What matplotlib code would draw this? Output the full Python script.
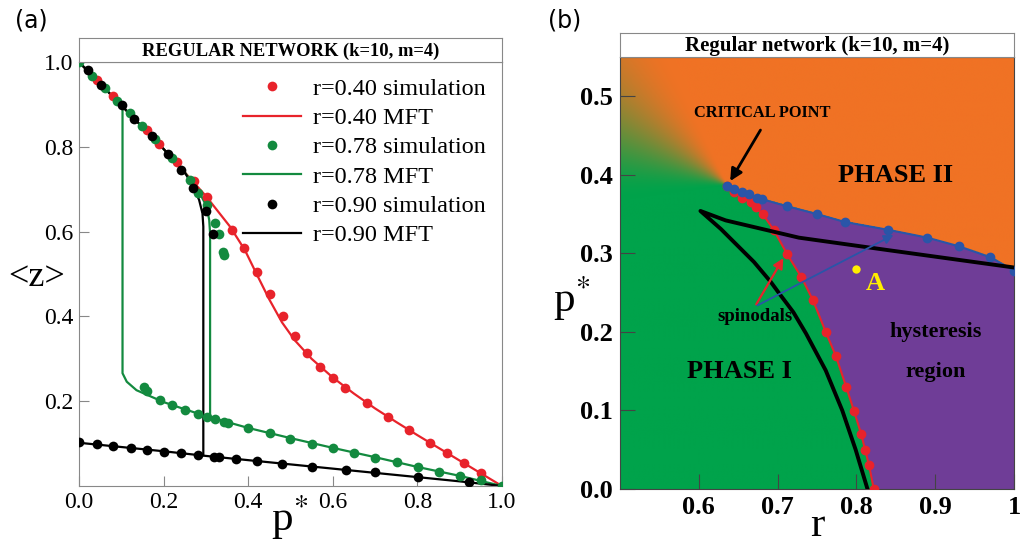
import numpy as np
import matplotlib
matplotlib.use('Agg')
import matplotlib.pyplot as plt

plt.rcParams['font.family'] = ['Liberation Serif', 'DejaVu Serif']
plt.rcParams['mathtext.fontset'] = 'stix'

# ---------------- panel (a) data ----------------
red_sim_x = [0.042, 0.081, 0.16, 0.19, 0.232, 0.272, 0.302, 0.361, 0.39, 0.42, 0.452, 0.482,
             0.51, 0.54, 0.571, 0.601, 0.63, 0.682, 0.731, 0.781, 0.83, 0.871, 0.91, 0.95]
red_sim_y = [0.958, 0.92, 0.84, 0.807, 0.764, 0.72, 0.681, 0.604, 0.561, 0.504, 0.453, 0.40,
             0.354, 0.314, 0.281, 0.254, 0.23, 0.195, 0.163, 0.132, 0.102, 0.077, 0.055, 0.031]
red_mft_x = [0.0, 0.1, 0.2, 0.25, 0.3, 0.357, 0.392, 0.42, 0.45, 0.48, 0.51, 0.55, 0.6, 0.65,
             0.7, 0.75, 0.8, 0.85, 0.9, 0.95, 1.0]
red_mft_y = [1.0, 0.898, 0.795, 0.74, 0.684, 0.612, 0.557, 0.5, 0.44, 0.386, 0.344, 0.3, 0.256,
             0.218, 0.183, 0.151, 0.12, 0.09, 0.06, 0.03, 0.0]

green_sim_x = [0.0, 0.031, 0.061, 0.091, 0.121, 0.15, 0.18, 0.221, 0.262, 0.282, 0.302, 0.322,
               0.332, 0.341, 0.343,
               0.154, 0.16, 0.191, 0.221, 0.251, 0.282, 0.302, 0.322, 0.343, 0.352, 0.4, 0.452,
               0.5, 0.551, 0.6, 0.651, 0.701, 0.751, 0.801, 0.851, 0.901, 0.95, 1.0]
green_sim_y = [1.0, 0.968, 0.938, 0.909, 0.879, 0.849, 0.818, 0.773, 0.722, 0.692, 0.663, 0.621,
               0.594, 0.553, 0.545,
               0.234, 0.225, 0.204, 0.19, 0.179, 0.17, 0.163, 0.157, 0.151, 0.149, 0.136, 0.124,
               0.112, 0.1, 0.089, 0.077, 0.067, 0.056, 0.044, 0.034, 0.024, 0.014, 0.0]
green_up_x = [0.0, 0.1, 0.2, 0.25, 0.286, 0.302, 0.308, 0.31, 0.31]
green_up_y = [1.0, 0.898, 0.795, 0.74, 0.69, 0.659, 0.627, 0.596, 0.163]
green_low_x = [0.103, 0.103, 0.113, 0.136, 0.168, 0.2, 0.25, 0.3, 0.35, 0.4, 0.5, 0.6, 0.7,
               0.8, 0.9, 1.0]
green_low_y = [0.89, 0.266, 0.246, 0.226, 0.212, 0.198, 0.181, 0.165, 0.151, 0.137, 0.113,
               0.09, 0.068, 0.045, 0.024, 0.0]

black_sim_x = [0.022, 0.051, 0.102, 0.131, 0.172, 0.211, 0.241, 0.27, 0.3, 0.318,
               0.0, 0.042, 0.081, 0.122, 0.161, 0.201, 0.241, 0.281, 0.319, 0.331, 0.371,
               0.422, 0.481, 0.551, 0.631, 0.701, 0.801, 0.921]
black_sim_y = [0.981, 0.947, 0.899, 0.866, 0.825, 0.782, 0.745, 0.704, 0.649, 0.594,
               0.103, 0.098, 0.094, 0.09, 0.085, 0.081, 0.077, 0.073, 0.069, 0.068, 0.064,
               0.059, 0.053, 0.046, 0.038, 0.032, 0.022, 0.01]
black_up_x = [0.0, 0.1, 0.2, 0.25, 0.27, 0.284, 0.292, 0.294, 0.294]
black_up_y = [1.0, 0.898, 0.795, 0.74, 0.706, 0.675, 0.643, 0.612, 0.073]
black_low_x = [0.0, 0.1, 0.2, 0.3, 0.4, 0.5, 0.6, 0.7, 0.8, 0.9, 1.0]
black_low_y = [0.102, 0.092, 0.082, 0.071, 0.061, 0.051, 0.041, 0.031, 0.021, 0.011, 0.0]

# ---------------- panel (b) data ----------------
crit_r, crit_p = 0.636, 0.386
blue_r = [0.636, 0.644, 0.655, 0.664, 0.674, 0.68, 0.712, 0.75, 0.785, 0.84, 0.89, 0.93, 0.97, 1.0]
blue_p = [0.386, 0.382, 0.378, 0.375, 0.371, 0.369, 0.36, 0.35, 0.34, 0.33, 0.32, 0.309, 0.295, 0.278]
red_r = [0.636, 0.644, 0.655, 0.666, 0.672, 0.681, 0.695, 0.712, 0.73, 0.745, 0.761, 0.774,
         0.787, 0.797, 0.806, 0.811, 0.816, 0.822]
red_p = [0.386, 0.378, 0.371, 0.365, 0.359, 0.35, 0.33, 0.299, 0.27, 0.24, 0.2, 0.169,
         0.13, 0.099, 0.07, 0.05, 0.03, 0.0]
mft_r = [1.0, 0.841, 0.727, 0.634, 0.602, 0.628, 0.651, 0.67, 0.691, 0.702, 0.72, 0.736, 0.761,
         0.782, 0.799, 0.814]
mft_p = [0.282, 0.304, 0.32, 0.342, 0.354, 0.331, 0.308, 0.289, 0.264, 0.249, 0.225, 0.198,
         0.151, 0.1, 0.05, 0.0]
point_a = (0.80, 0.28)

RED = '#e8232b'
GREEN = '#138a3f'
ORANGE = np.array([240, 114, 36]) / 255
BGREEN = np.array([0, 163, 75]) / 255
PURPLE = '#6f3d97'
BLUE = '#2a55a8'

fig = plt.figure(figsize=(10.24, 5.47), dpi=100)

# ---------------- panel (a) ----------------
ax = fig.add_axes([0.0771, 0.1115, 0.4131, 0.7751])
ax.plot(red_mft_x, red_mft_y, color=RED, lw=1.6, label='r=0.40 MFT', zorder=2)
ax.plot(green_up_x, green_up_y, color=GREEN, lw=1.6, label='r=0.78 MFT', zorder=2)
ax.plot(green_low_x, green_low_y, color=GREEN, lw=1.6, zorder=2)
ax.plot(black_up_x, black_up_y, color='black', lw=1.6, label='r=0.90 MFT', zorder=2)
ax.plot(black_low_x, black_low_y, color='black', lw=1.6, zorder=2)
ax.plot(red_sim_x, red_sim_y, 'o', color=RED, ms=7, mec='none', label='r=0.40 simulation', zorder=3)
ax.plot(green_sim_x, green_sim_y, 'o', color=GREEN, ms=7, mec='none', label='r=0.78 simulation', zorder=4)
ax.plot(black_sim_x, black_sim_y, 'o', color='black', ms=7, mec='none', label='r=0.90 simulation', zorder=5)
ax.set_xlim(0, 1)
ax.set_ylim(0, 1)
ax.set_xticks([0.0, 0.2, 0.4, 0.6, 0.8, 1.0])
ax.set_yticks([0.2, 0.4, 0.6, 0.8, 1.0])
ax.set_xticklabels(['0.0', '0.2', '0.4', '0.6', '0.8', '1.0'])
ax.set_yticklabels(['0.2', '0.4', '0.6', '0.8', '1.0'])
ax.tick_params(direction='in', length=7, color='#888888', labelsize=17, pad=4)
for s in ax.spines.values():
    s.set_color('#888888')
handles, labels = ax.get_legend_handles_labels()
order = [3, 0, 4, 1, 5, 2]
ax.legend([handles[i] for i in order], [labels[i] for i in order], loc='upper right',
          bbox_to_anchor=(1.0, 1.0), frameon=False, fontsize=17.5, handlelength=2.4,
          handletextpad=0.5, labelspacing=0.3, borderaxespad=0.25)
fig.text(0.283, 0.03, r'p$^{*}$', fontsize=31, ha='center', va='baseline')
fig.text(0.036, 0.493, '<z>', fontsize=26, ha='center', va='center')
fig.text(0.031, 0.962, '(a)', fontsize=17, ha='center', va='center', family='DejaVu Sans')

tax = fig.add_axes([0.0771, 0.8867, 0.4131, 0.0439])
tax.set_xticks([])
tax.set_yticks([])
for s in tax.spines.values():
    s.set_color('#888888')
tax.text(0.5, 0.45, 'REGULAR NETWORK (k=10, m=4)', ha='center', va='center',
         fontsize=13.3, fontweight='bold', transform=tax.transAxes)

# ---------------- panel (b) ----------------
bx = fig.add_axes([0.6055, 0.106, 0.3848, 0.7898])
rr, pp = np.meshgrid(np.linspace(0.5, 1.0, 400), np.linspace(0.0, 0.55, 440))
theta = np.degrees(np.arctan2(pp - crit_p, rr - crit_r)) % 360
w = np.clip((188 - theta) / 75, 0, 1)
w = w * w * (3 - 2 * w)
above = pp > np.interp(rr, blue_r, blue_p)
w = np.where(rr > crit_r, above.astype(float), w)
img = BGREEN[None, None, :] * (1 - w[..., None]) + ORANGE[None, None, :] * w[..., None]
bx.imshow(img, extent=[0.5, 1.0, 0.0, 0.55], origin='lower', aspect='auto',
          interpolation='bilinear', zorder=0)
poly_r = red_r + [1.0, 1.0] + blue_r[::-1]
poly_p = red_p + [0.0, blue_p[-1]] + blue_p[::-1]
bx.fill(poly_r, poly_p, color=PURPLE, lw=0, zorder=1)
bx.plot(red_r, red_p, '-o', color=RED, lw=1.5, ms=6, zorder=3)
bx.plot(blue_r, blue_p, '-o', color=BLUE, lw=1.5, ms=6, zorder=3)
bx.plot(mft_r, mft_p, color='black', lw=2.8, zorder=4)
bx.plot(*point_a, 'o', color='#ffee00', ms=6, mec='none', zorder=5)
bx.text(0.812, 0.262, 'A', color='#ffee00', fontsize=19, fontweight='bold', va='center', zorder=5)
bx.text(0.85, 0.399, 'PHASE II', fontsize=19, fontweight='bold', ha='center', va='center')
bx.text(0.651, 0.149, 'PHASE I', fontsize=19, fontweight='bold', ha='center', va='center')
bx.text(0.9, 0.2, 'hysteresis', fontsize=16, fontweight='bold', ha='center', va='center')
bx.text(0.9, 0.149, 'region', fontsize=16, fontweight='bold', ha='center', va='center')
bx.text(0.68, 0.479, 'CRITICAL POINT', fontsize=11.8, fontweight='bold', ha='center', va='center')
bx.annotate('', xy=(crit_r + 0.002, crit_p + 0.003), xytext=(0.68, 0.46),
            arrowprops=dict(arrowstyle='-|>', color='black', lw=2, mutation_scale=18), zorder=6)
bx.text(0.671, 0.219, 'spinodals', fontsize=13.5, fontweight='bold', ha='center', va='center')
bx.annotate('', xy=(0.709, 0.297), xytext=(0.671, 0.232),
            arrowprops=dict(arrowstyle='-|>', color=RED, lw=1.6, mutation_scale=15), zorder=6)
bx.annotate('', xy=(0.85, 0.325), xytext=(0.671, 0.232),
            arrowprops=dict(arrowstyle='-|>', color=BLUE, lw=1.3, mutation_scale=14), zorder=6)
bx.set_xlim(0.5, 1.0)
bx.set_ylim(0.0, 0.55)
bx.set_xticks([0.6, 0.7, 0.8, 0.9, 1.0])
bx.set_xticklabels(['0.6', '0.7', '0.8', '0.9', '1'])
bx.set_yticks([0.0, 0.1, 0.2, 0.3, 0.4, 0.5])
bx.set_yticklabels(['0.0', '0.1', '0.2', '0.3', '0.4', '0.5'])
bx.tick_params(direction='in', length=11, color='#444444', labelsize=19, pad=5)
for lab in bx.get_xticklabels() + bx.get_yticklabels():
    lab.set_fontweight('bold')
for s in bx.spines.values():
    s.set_color('#444444')
fig.text(0.798, 0.02, 'r', fontsize=31, ha='center', va='baseline')
fig.text(0.558, 0.43, r'p$^{*}$', fontsize=31, ha='center', va='baseline')
fig.text(0.551, 0.962, '(b)', fontsize=17, ha='center', va='center', family='DejaVu Sans')

tbx = fig.add_axes([0.6055, 0.8958, 0.3848, 0.0439])
tbx.set_xticks([])
tbx.set_yticks([])
for s in tbx.spines.values():
    s.set_color('#888888')
tbx.text(0.5, 0.45, 'Regular network (k=10, m=4)', ha='center', va='center',
         fontsize=15, fontweight='bold', transform=tbx.transAxes)

fig.savefig('out.png', dpi=100)
